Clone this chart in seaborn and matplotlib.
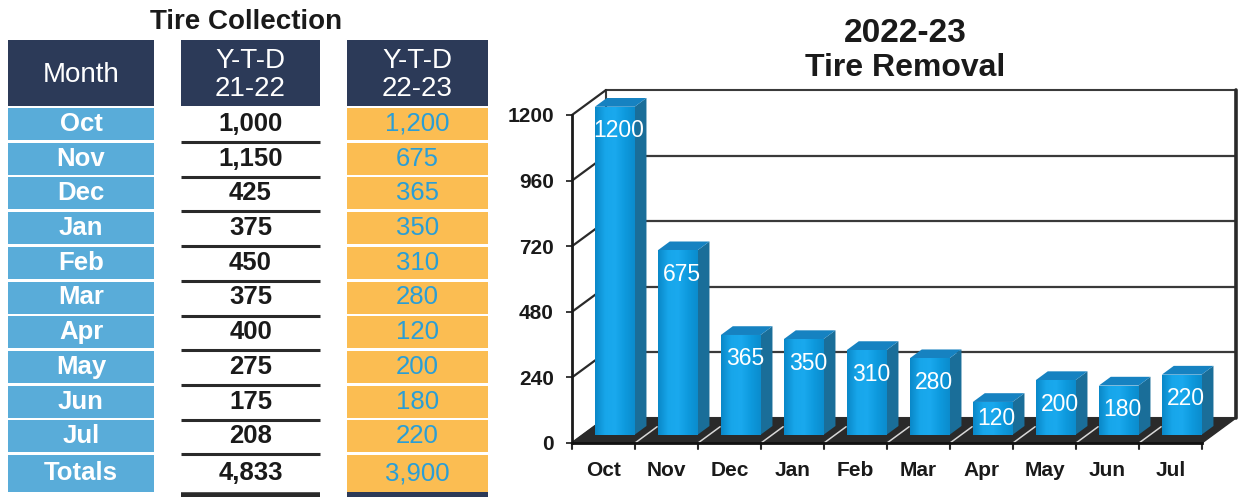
import matplotlib
matplotlib.use("Agg")
import numpy as np
import pandas as pd
import matplotlib.pyplot as plt
from matplotlib.patches import Polygon, Rectangle
from matplotlib.colors import LinearSegmentedColormap
import seaborn as sns

# ---- data -------------------------------------------------------------
months = ["Oct", "Nov", "Dec", "Jan", "Feb", "Mar", "Apr", "May", "Jun", "Jul"]
ytd_2122 = [1000, 1150, 425, 375, 450, 375, 400, 275, 175, 208]
ytd_2223 = [1200, 675, 365, 350, 310, 280, 120, 200, 180, 220]
y_ticks = [0, 240, 480, 720, 960, 1200]
table_title = "Tire Collection"
col_headers = ["Month", "Y-T-D\n21-22", "Y-T-D\n22-23"]
total_label = "Totals"
chart_title = "2022-23"
chart_subtitle = "Tire Removal"

# ---- style ------------------------------------------------------------
sns.set_theme(style="white")
plt.rcParams["font.family"] = ["Liberation Sans", "DejaVu Sans"]

NAVY = "#2c3a58"
MONTH_BLUE = "#59acd9"
ORANGE = "#fbbd52"
VALUE_BLUE = "#2a9ed6"
BAR_FRONT = "#0e9de2"
BAR_SIDE = "#1a6e99"
BAR_TOP = "#1682c1"
FLOOR = "#2a2a2a"
INK = "#1a1a1a"

W, H = 1239, 497
fig = plt.figure(figsize=(W / 100, H / 100), dpi=100)


def fig_rect(x0, y0, x1, y1):
    """Pixel box (top-left origin) -> figure-fraction rectangle."""
    return [x0 / W, (H - y1) / H, (x1 - x0) / W, (y1 - y0) / H]


# ---- left: collection table -------------------------------------------
tab = fig.add_axes([0, 0, 1, 1])
tab.set_xlim(0, W)
tab.set_ylim(H, 0)
tab.axis("off")

col_month = (8, 154)
col_a = (181, 320)
col_b = (347, 488)
head_top, head_bot = 40, 106
row_top0, row_pitch, cell_h = 108, 34.7, 32

tab.text(246, 22, table_title, ha="center", va="center",
         fontsize=20, fontweight="bold", color=INK)

for (c0, c1), label in zip([col_month, col_a, col_b], col_headers):
    tab.add_patch(Rectangle((c0, head_top), c1 - c0, head_bot - head_top,
                            facecolor=NAVY, edgecolor="none"))
    tab.text((c0 + c1) / 2, (head_top + head_bot) / 2 + 2.5, label, ha="center",
             va="center", fontsize=20, color="white", linespacing=1.1)

row_names = months + [total_label]
col_a_vals = ytd_2122 + [sum(ytd_2122)]
col_b_vals = ytd_2223 + [sum(ytd_2223)]

for i, (name, va_, vb_) in enumerate(zip(row_names, col_a_vals, col_b_vals)):
    top = row_top0 + i * row_pitch
    h = cell_h if i < len(months) else 37
    cy = top + h / 2
    tab.add_patch(Rectangle((col_month[0], top), col_month[1] - col_month[0], h,
                            facecolor=MONTH_BLUE, edgecolor="none"))
    tab.add_patch(Rectangle((col_b[0], top), col_b[1] - col_b[0], h,
                            facecolor=ORANGE, edgecolor="none"))
    tab.text(sum(col_month) / 2, cy, name, ha="center", va="center",
             fontsize=18.5, fontweight="bold", color="white")
    tab.text(sum(col_a) / 2, cy, f"{va_:,}", ha="center", va="center",
             fontsize=18.5, fontweight="bold", color=INK)
    tab.text(sum(col_b) / 2, cy, f"{vb_:,}", ha="center", va="center",
             fontsize=18.5, color=VALUE_BLUE)
    if i < len(months):
        tab.plot(col_a, [top + 34, top + 34], color="#2a2a2a", lw=2.2,
                 solid_capstyle="butt")

tab.plot(col_a, [494.5, 494.5], color="#2a2a2a", lw=4, solid_capstyle="butt")
tab.add_patch(Rectangle((col_b[0], 492), col_b[1] - col_b[0], 6,
                        facecolor=NAVY, edgecolor="none"))

# ---- right: 3-D style removal chart -----------------------------------
fig.text(905 / W, 1 - 34 / H, chart_title, ha="center", va="center",
         fontsize=24, fontweight="bold", color=INK)
fig.text(905 / W, 1 - 68 / H, chart_subtitle, ha="center", va="center",
         fontsize=23, fontweight="bold", color=INK)

ax_px = (572, 115, 1202, 443)
ax = fig.add_axes(fig_rect(*ax_px))
df = pd.DataFrame({"month": months, "tires": ytd_2223})
sns.barplot(data=df, x="month", y="tires", ax=ax, color=BAR_FRONT,
            saturation=1, width=0.63, errorbar=None, zorder=5)
bars = list(ax.patches)

n = len(months)
ax.set_xlim(-0.5, n - 0.5)
ax.set_ylim(y_ticks[0], y_ticks[-1])
ax.patch.set_visible(False)

px_x = (ax_px[2] - ax_px[0]) / n
px_y = (ax_px[3] - ax_px[1]) / (y_ticks[-1] - y_ticks[0])
DEPTH = (34, 25)  # pixel shift from front plane to back wall


def proj(x, y, d):
    return (x + d * DEPTH[0] / px_x, y + d * DEPTH[1] / px_y)


x_lo, x_hi = -0.5, n - 0.5
y_top = y_ticks[-1]

# back wall with gridlines
bx, by = proj(x_lo, 0, 1)
ax.add_patch(Rectangle((bx, by), x_hi - x_lo, y_top, facecolor="white",
                       edgecolor="#3a3a3a", lw=1.5, zorder=1, clip_on=False))
for v in y_ticks[1:-1]:
    p0, p1 = proj(x_lo, v, 1), proj(x_hi, v, 1)
    ax.plot([p0[0], p1[0]], [p0[1], p1[1]], color="#3a3a3a", lw=1.6,
            zorder=1.5, clip_on=False)
r0, r1 = proj(x_hi, 0, 1), proj(x_hi, y_top, 1)
ax.plot([r0[0], r1[0]], [r0[1], r1[1]], color="#2a2a2a", lw=2.6, zorder=1.6,
        clip_on=False)

# left wall edges
for v in y_ticks:
    p0, p1 = proj(x_lo, v, 0), proj(x_lo, v, 1)
    ax.plot([p0[0], p1[0]], [p0[1], p1[1]], color="#2a2a2a", lw=1.6,
            zorder=1.6, clip_on=False)

# floor slab
floor = [proj(x_lo, 0, 0), proj(x_hi, 0, 0), proj(x_hi, 0, 1), proj(x_lo, 0, 1)]
ax.add_patch(Polygon(floor, closed=True, facecolor=FLOOR, edgecolor=FLOOR,
                     lw=1, zorder=2, clip_on=False))
for b in np.arange(0.5, n - 0.5, 1.0):
    p0, p1 = proj(b, 0, 0), proj(b, 0, 0.65)
    ax.plot([p0[0], p1[0]], [p0[1], p1[1]], color="#d8d8d8", lw=1.1,
            zorder=3, clip_on=False)
for b in np.arange(-0.5, n, 1.0):
    ax.plot([b, b], [0, -6 / px_y], color="#2a2a2a", lw=1.5, zorder=3,
            clip_on=False)

# bars: shift front faces into the scene and add side and top faces
d0, d1 = 0.33, 0.68
dxu0, dyu0 = proj(0, 0, d0)
grad_cmap = LinearSegmentedColormap.from_list(
    "face", ["#0a88c8", "#17a6ea", "#1aa9ee", "#0e9ade", "#0b8ccd"])
grad = np.linspace(0, 1, 64).reshape(1, -1)

for p, v in zip(bars, ytd_2223):
    x0, w = p.get_x(), p.get_width()
    x1 = x0 + w
    p.set_x(x0 + dxu0)
    p.set_y(dyu0)
    p.set_height(v)
    p.set_clip_on(False)
    p.set_edgecolor("none")
    im = ax.imshow(grad, cmap=grad_cmap, aspect="auto", interpolation="bilinear",
                   extent=[x0 + dxu0, x1 + dxu0, dyu0, dyu0 + v], zorder=5.2)
    im.set_clip_path(p)

    side = [proj(x1, 0, d0), proj(x1, v, d0), proj(x1, v, d1), proj(x1, 0, d1)]
    ax.add_patch(Polygon(side, closed=True, facecolor=BAR_SIDE,
                         edgecolor="none", zorder=4.9, clip_on=False))
    top = [proj(x0, v, d0), proj(x1, v, d0), proj(x1, v, d1), proj(x0, v, d1)]
    ax.add_patch(Polygon(top, closed=True, facecolor=BAR_TOP,
                         edgecolor="none", zorder=4.9, clip_on=False))

    ly = v - min(24 / px_y, v / 2)
    lx, ly = proj((x0 + x1) / 2 + 4 / px_x, ly, d0)
    ax.text(lx, ly, f"{v}", ha="center", va="center", fontsize=16.5,
            color="white", zorder=10, clip_on=False)

ax.set_xlim(-0.5, n - 0.5)
ax.set_ylim(y_ticks[0], y_ticks[-1])

# axes, ticks and labels
for side_name in ["top", "right"]:
    ax.spines[side_name].set_visible(False)
ax.spines["left"].set_color("#1a1a1a")
ax.spines["left"].set_linewidth(2)
ax.spines["left"].set_zorder(6)
ax.spines["bottom"].set_color("#111111")
ax.spines["bottom"].set_linewidth(2)
ax.spines["bottom"].set_zorder(6)

ax.set_yticks(y_ticks, labels=[str(v) for v in y_ticks], fontsize=15,
              fontweight="bold", color=INK)
ax.set_xticks(range(n), labels=months, fontsize=15, fontweight="bold",
              color=INK)
ax.tick_params(axis="y", left=True, length=4, width=1.3, color="#2a2a2a", pad=9)
ax.tick_params(axis="x", bottom=False, length=0, pad=13)
ax.set_xlabel("")
ax.set_ylabel("")

fig.savefig("out.png", dpi=100)
